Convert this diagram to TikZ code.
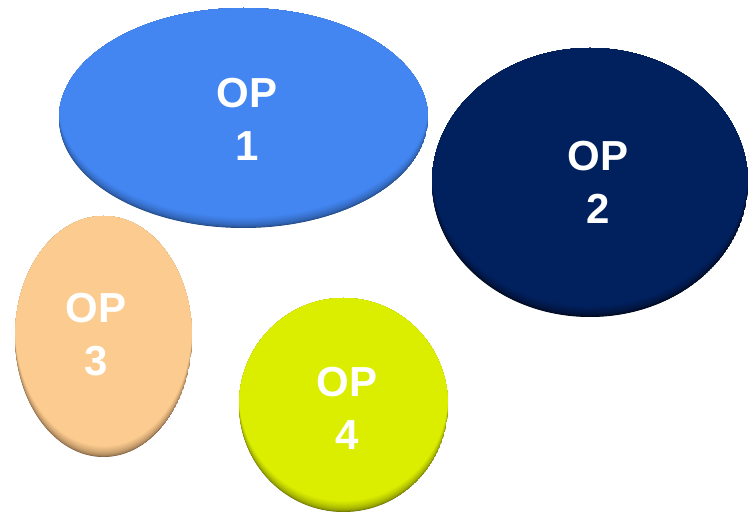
\documentclass[tikz,border=0pt]{standalone}
\usepackage{fontspec}
\setmainfont{Liberation Sans}
\definecolor{opblue}{HTML}{4386F2}
\definecolor{opbluedk}{HTML}{22477F}
\definecolor{opnavy}{HTML}{01205E}
\definecolor{opnavydk}{HTML}{000818}
\definecolor{oppeach}{HTML}{FCCB8F}
\definecolor{oppeachdk}{HTML}{7E6040}
\definecolor{oplime}{HTML}{DBEE00}
\definecolor{oplimedk}{HTML}{6A7300}
\newcommand\opblob[6]{%
  \begin{scope}
    \clip (#1,#2) ellipse [x radius=#3, y radius=#4];
    \fill[#6] (#1,#2) ellipse [x radius=#3, y radius=#4];
    \foreach \k in {1,...,24}{%
      \pgfmathtruncatemacro\pc{100*sqrt(\k/24)}%
      \fill[#5!\pc!#6] (#1,{#2+\k*0.45}) ellipse [x radius=#3, y radius=#4];
    }
  \end{scope}}
\begin{document}
\begin{tikzpicture}[x=1pt,y=1pt,
  lbl/.style={text=white, align=center, inner sep=0pt,
    font=\bfseries\fontsize{42}{53}\selectfont}]
\useasboundingbox (0,0) rectangle (748,512);
\fill[white] (0,0) rectangle (748,512);
% OP1
\opblob{243.5}{394}{184.5}{110}{opblue}{opbluedk}
% OP2
\opblob{590}{329.5}{158}{134.5}{opnavy}{opnavydk}
% OP3
\opblob{103.5}{175.5}{88.5}{120.5}{oppeach}{oppeachdk}
% OP4
\opblob{343.5}{107}{104.5}{107}{oplime}{oplimedk}
\node[lbl] (t1) at (247,392.5) {OP\\1};
\node[lbl] (t2) at (598,329.5) {OP\\2};
\node[lbl] (t3) at (96,177.5) {OP\\3};
\node[lbl] (t4) at (347,103.5) {OP\\4};
\end{tikzpicture}
\end{document}
